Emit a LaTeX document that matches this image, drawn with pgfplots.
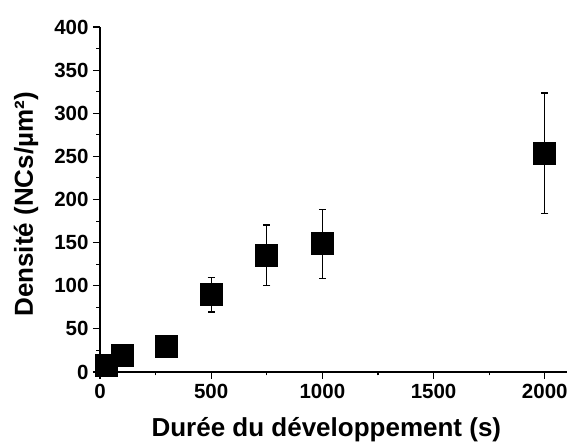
\documentclass[border=0pt]{standalone}
\usepackage{fontspec}
\setmainfont{Liberation Sans}
\usepackage{pgfplots}
\pgfplotsset{compat=1.18}

\begin{document}
\begin{tikzpicture}
\useasboundingbox (-100pt,-75pt) rectangle (471pt,372pt);
\begin{axis}[
    at={(0,0)}, anchor=south west,
    scale only axis,
    width=467pt, height=345pt,
    xmin=0, xmax=2100,
    ymin=0, ymax=400,
    axis x line=bottom, axis y line=left,
    axis line style={line width=1.2pt, -},
    xtick={0,500,...,2000},
    ytick={0,50,...,400},
    minor tick num=1,
    tick align=outside,
    major tick length=7pt, minor tick length=3.5pt,
    tick style={line width=1.1pt, black},
    /pgf/number format/assume math mode=true,
    /pgf/number format/1000 sep={},
    tick label style={font=\fontsize{20.5}{20.5}\selectfont\bfseries},
    xticklabel style={yshift=-2pt},
    yticklabel style={xshift=-1pt},
    label style={font=\fontsize{26}{26}\selectfont\bfseries},
    xlabel={Durée du développement (s)},
    ylabel={Densité (NCs/µm²)},
    xlabel style={at={(axis description cs:0.1028,-0.188)}, anchor=base west},
    ylabel style={at={(axis description cs:-0.1435,0.150)}, anchor=base west},
    clip=true,
]
\addplot[only marks, mark=square*, mark size=11pt,
    mark options={fill=black, draw=black, line width=1pt},
    error bars/.cd, y dir=both, y explicit,
    error bar style={line width=1.3pt, black},
    error mark=-,
    error mark options={rotate=90, line width=1.3pt, mark size=3.5pt, black}]
coordinates {
    (30,8)    +- (0,0)
    (100,19)   +- (0,0)
    (300,29)   +- (0,0)
    (500,89.5) +- (0,20)
    (750,135.5) +- (0,35)
    (1000,148.5) +- (0,40)
    (2000,253.5) +- (0,70)
};
\end{axis}
\end{tikzpicture}
\end{document}
